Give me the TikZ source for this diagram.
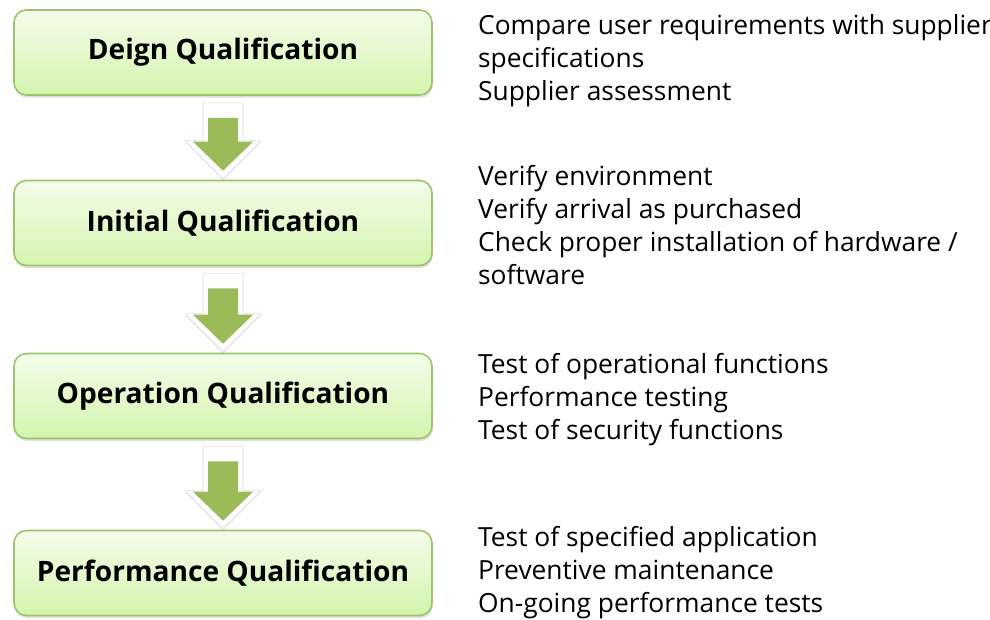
\documentclass[tikz,border=0pt]{standalone}
\usepackage{fontspec}
\setmainfont{Open Sans}
\usetikzlibrary{calc,positioning,shadows}
\definecolor{boxtop}{HTML}{F4FCEA}
\definecolor{boxbottom}{HTML}{D4F4AE}
\definecolor{boxline}{HTML}{9CC46C}
\definecolor{arrowgreen}{HTML}{9BBB59}
\tikzset{
	qbox/.style={draw=boxline, line width=0.9pt, rounded corners=0.25cm, top color=boxtop, bottom color=boxbottom,
		minimum width=8.36cm, minimum height=1.7cm, font=\fontsize{16}{19}\selectfont\bfseries,
		drop shadow={shadow xshift=0.5pt, shadow yshift=-1.5pt, opacity=0.25}},
	qtext/.style={inner sep=0pt, align=left, font=\fontsize{15}{18.8}\selectfont}
}
\def\flowarrow(#1)(#2){
	\coordinate (wtip) at ($(#2.north)+(0,0.02)$);
	\coordinate (gtip) at ($(#2.north)+(0,0.18)$);
	\draw[black!8, line width=0.6pt, fill=white, drop shadow={shadow xshift=0pt, shadow yshift=-0.8pt, opacity=0.25}]
		($(#1.south)+(-0.4,-0.14)$) -- ($(#1.south)+(0.4,-0.14)$) -- ($(wtip)+(0.4,0.76)$) -- ($(wtip)+(0.76,0.76)$)
		-- (wtip) -- ($(wtip)+(-0.76,0.76)$) -- ($(wtip)+(-0.4,0.76)$) -- cycle;
	\fill[arrowgreen]
		($(#1.south)+(-0.3,-0.44)$) -- ($(#1.south)+(0.3,-0.44)$) -- ($(gtip)+(0.3,0.58)$) -- ($(gtip)+(0.6,0.58)$)
		-- (gtip) -- ($(gtip)+(-0.6,0.58)$) -- ($(gtip)+(-0.3,0.58)$) -- cycle;
}

\begin{document}
\begin{tikzpicture}
	%%%%% START %%%%%
	\useasboundingbox (0,0) rectangle (19.8,-12.38);
	
	\node[qbox] (dq) at (4.46,-1.05) {Deign Qualification};
	\node[qbox] (iq) at (4.46,-4.46) {Initial Qualification};
	\node[qbox] (oq) at (4.46,-7.92) {Operation Qualification};
	\node[qbox] (pq) at (4.46,-11.46) {Performance Qualification};
	
	\flowarrow(dq)(iq)
	\flowarrow(iq)(oq)
	\flowarrow(oq)(pq)
	
	\node[qtext, right=0.9cm of dq.east, yshift=-0.17cm] (dqtext) {Compare user requirements with supplier\\specifications\\Supplier assessment};
	\node[qtext, right=0.9cm of iq.east, yshift=-0.04cm] (iqtext) {Verify environment\\Verify arrival as purchased\\Check proper installation of hardware /\\software};
	\node[qtext, right=0.9cm of oq.east, yshift=-0.08cm] (oqtext) {Test of operational functions\\Performance testing\\Test of security functions};
	\node[qtext, right=0.9cm of pq.east] (pqtext) {Test of specified application\\Preventive maintenance\\On-going performance tests};
	
	%%%%% END %%%%%
\end{tikzpicture}
\end{document}
